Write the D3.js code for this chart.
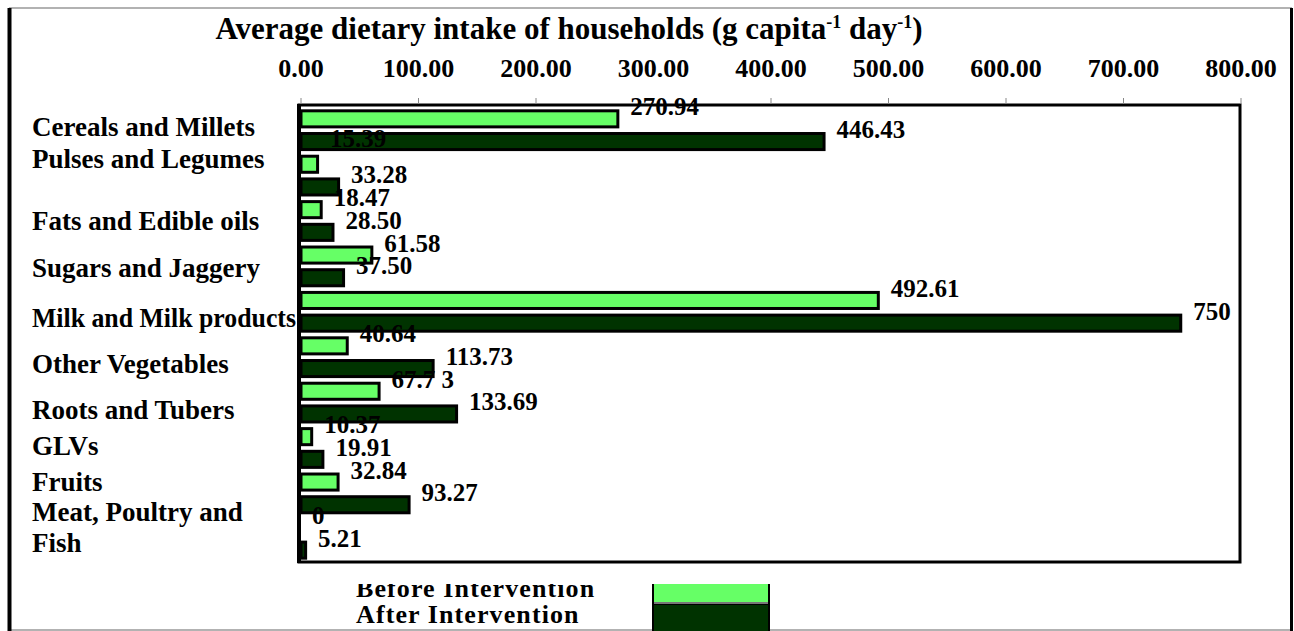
<!DOCTYPE html>
<head>
<meta charset="utf-8">
<title>Average dietary intake of households</title>
<script src="https://cdn.jsdelivr.net/npm/d3@7"></script>
<style>
body { margin: 0; background: #fff; }
text {
	font-family: "Liberation Serif", "Times New Roman", serif;
	font-weight: bold;
	fill: #000;
	}
</style>
</head>

<body>
<script>
// data
var categories = ["Cereals and Millets", "Pulses and Legumes", "Fats and Edible oils", "Sugars and Jaggery",
	"Milk and Milk products", "Other Vegetables", "Roots and Tubers", "GLVs", "Fruits", "Meat, Poultry and|Fish"];
var series = ["Before Intervention", "After Intervention"];
var before = [270.94, 15.39, 18.47, 61.58, 492.61, 40.64, 67.73, 10.37, 32.84, 0];
var after  = [446.43, 33.28, 28.50, 37.50, 750, 113.73, 133.69, 19.91, 93.27, 5.21];
var beforeLabels = ["270.94", "15.39", "18.47", "61.58", "492.61", "40.64", "67.7 3", "10.37", "32.84", "0"];
var afterLabels  = ["446.43", "33.28", "28.50", "37.50", "750", "113.73", "133.69", "19.91", "93.27", "5.21"];
var xTicks = [0, 100, 200, 300, 400, 500, 600, 700, 800];

var colors = ["#66ff66", "#003300"];

// small hand nudges for the category names (they don't sit centred in the original)
var catNudge = [-3, -17, 0, 2, 6, 7, 7, -2, -11, -11];

var width = 1294, height = 631;

var svg = d3.select("body").append("svg")
	.attr("width", width)
	.attr("height", height);

var x = d3.scaleLinear().domain([0, 800]).range([301, 1241]);
var y0 = d3.scaleBand().domain(categories).range([107.5, 561.5]);
var y1 = d3.scaleBand().domain(series).range([0, y0.bandwidth()])
	.paddingInner(0.16).paddingOuter(0.08);

// outer frame
svg.append("line").attr("x1", 9).attr("x2", 1292).attr("y1", 8).attr("y2", 8)
	.style("stroke", "#999").style("stroke-width", 1.5);
svg.append("line").attr("x1", 9).attr("x2", 1292).attr("y1", 630).attr("y2", 630)
	.style("stroke", "#999").style("stroke-width", 1.5);
svg.append("line").attr("x1", 9.5).attr("x2", 9.5).attr("y1", 8).attr("y2", 631)
	.style("stroke", "#000").style("stroke-width", 4);
svg.append("line").attr("x1", 1291.5).attr("x2", 1291.5).attr("y1", 8).attr("y2", 631)
	.style("stroke", "#000").style("stroke-width", 3);

// title
var title = svg.append("text")
	.attr("x", 569)
	.attr("y", 39)
	.attr("text-anchor", "middle")
	.attr("font-size", "31px");
title.append("tspan").text("Average dietary intake of households (g capita");
title.append("tspan").attr("font-size", "18px").attr("dy", -11).text("-1");
title.append("tspan").attr("dy", 11).text(" day");
title.append("tspan").attr("font-size", "18px").attr("dy", -11).text("-1");
title.append("tspan").attr("dy", 11).text(")");

// bars
var rows = [];
categories.forEach(function(c, i) {
	rows.push({cat: c, s: series[0], v: before[i], label: beforeLabels[i], k: 0, i: i});
	rows.push({cat: c, s: series[1], v: after[i], label: afterLabels[i], k: 1, i: i});
});

svg.selectAll("rect.bar")
	.data(rows)
	.enter().append("rect")
	.attr("class", "bar")
	.attr("x", x(0))
	.attr("y", function(d) { return y0(d.cat) + y1(d.s) + 1.5; })
	.attr("width", function(d) { return Math.max(0, x(d.v) - x(0) - 1.5); })
	.attr("height", y1.bandwidth() - 3)
	.style("fill", function(d) { return colors[d.k]; })
	.style("stroke", "#000")
	.style("stroke-width", 3);

// plot frame
svg.append("rect")
	.attr("x", 299).attr("y", 105)
	.attr("width", 941).attr("height", 457)
	.style("fill", "none").style("stroke", "#000").style("stroke-width", 3);
svg.append("line").attr("x1", 299).attr("x2", 299).attr("y1", 104).attr("y2", 563)
	.style("stroke", "#000").style("stroke-width", 4);

// x axis on top
svg.selectAll("line.tick")
	.data(xTicks)
	.enter().append("line")
	.attr("class", "tick")
	.attr("x1", function(d) { return x(d); })
	.attr("x2", function(d) { return x(d); })
	.attr("y1", 98).attr("y2", 104)
	.style("stroke", "#888").style("stroke-width", 1);

svg.selectAll("text.tickLabel")
	.data(xTicks)
	.enter().append("text")
	.attr("class", "tickLabel")
	.attr("x", function(d) { return x(d); })
	.attr("y", 77)
	.attr("text-anchor", "middle")
	.attr("font-size", "26px")
	.text(d3.format(".2f"));

// category names
categories.forEach(function(c, i) {
	var parts = c.split("|");
	var cy = y0(c) + y0.bandwidth() / 2 + 9 + catNudge[i];
	var t = svg.append("text")
		.attr("x", 32)
		.attr("font-size", "27px");
	if (parts.length == 1) {
		t.attr("y", cy).text(c);
		if (t.node().getComputedTextLength() > 264) {
			t.attr("textLength", 264).attr("lengthAdjust", "spacingAndGlyphs");
		}
	} else {
		t.attr("y", cy - 15.5).text(parts[0]);
		svg.append("text").attr("x", 32).attr("y", cy + 15.5)
			.attr("font-size", "27px").text(parts[1]);
	}
});

// value labels
var labelNudge = {2: -14};
svg.selectAll("text.value")
	.data(rows)
	.enter().append("text")
	.attr("class", "value")
	.attr("x", function(d) { return x(d.v) + 11; })
	.attr("y", function(d, j) { return y0(d.cat) + y1(d.s) + 6 + (labelNudge[j] || 0); })
	.attr("font-size", "25px")
	.text(function(d) { return d.label; });

// legend, cut at the top as in the original
svg.append("clipPath").attr("id", "legclip")
	.append("rect").attr("x", 0).attr("y", 584).attr("width", width).attr("height", 47);
var leg = svg.append("g").attr("clip-path", "url(#legclip)");

series.forEach(function(s, k) {
	leg.append("text")
		.attr("x", 356)
		.attr("y", 597 + k * 26)
		.attr("font-size", "26px")
		.style("letter-spacing", "1.1px")
		.text(s);
});
leg.append("rect").attr("x", 653).attr("y", 570).attr("width", 116).attr("height", 33)
	.style("fill", colors[0]).style("stroke", "#000").style("stroke-width", 2);
leg.append("rect").attr("x", 653).attr("y", 604).attr("width", 116).attr("height", 40)
	.style("fill", colors[1]).style("stroke", "#000").style("stroke-width", 2);
leg.append("line").attr("x1", 654).attr("x2", 768).attr("y1", 603).attr("y2", 603)
	.style("stroke", "#777").style("stroke-width", 2);
</script>
</body>
